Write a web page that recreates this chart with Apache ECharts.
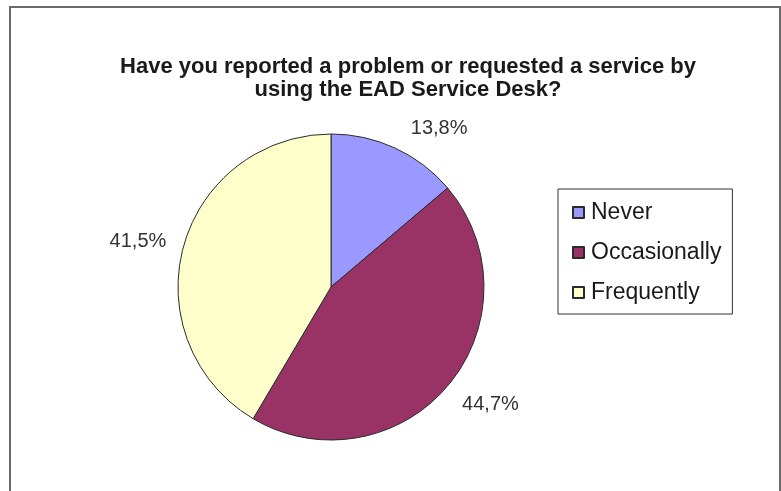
<!DOCTYPE html>
<html>
<head>
<meta charset="utf-8">
<script src="https://cdn.jsdelivr.net/npm/echarts@6/dist/echarts.min.js"></script>
<style>
  html, body { margin: 0; padding: 0; background: #ffffff; }
  #chart { width: 781px; height: 491px; }
</style>
</head>
<body>
<div id="chart"></div>
<script>
// Survey answers and their shares (percent)
const categories = ['Never', 'Occasionally', 'Frequently'];
const shares = [13.8, 44.7, 41.5];
const colors = ['#9999ff', '#993366', '#ffffcc'];
const titleText = 'Have you reported a problem or requested a service by\nusing the EAD Service Desk?';

// small nudges for the outside percentage labels
const labelOffsets = [[0, 3], [-10, 3], [12, 1]];

const FONT = '"Liberation Sans", Arial, sans-serif';

const chart = echarts.init(document.getElementById('chart'), null, { renderer: 'canvas' });

const pieData = categories.map((name, i) => ({
  name: name,
  value: shares[i],
  itemStyle: { color: colors[i] },
  label: { offset: labelOffsets[i] }
}));

chart.setOption({
  animation: false,
  backgroundColor: '#ffffff',
  title: {
    text: titleText,
    left: 403,
    top: 50,
    textAlign: 'center',
    textStyle: {
      fontFamily: FONT,
      fontWeight: 'bold',
      fontSize: 22,
      lineHeight: 23,
      color: '#1a1a1a'
    }
  },
  legend: {
    orient: 'vertical',
    left: 558,
    top: 189,
    padding: [12, 11, 10, 14],
    itemGap: 17,
    itemWidth: 11,
    itemHeight: 11,
    icon: 'rect',
    borderColor: '#333333',
    borderWidth: 1,
    textStyle: {
      fontFamily: FONT,
      fontSize: 23,
      color: '#1a1a1a',
      padding: [0, 0, 0, 2]
    },
    data: categories
  },
  graphic: [{
    type: 'polyline',
    shape: { points: [[10, 491], [10, 7], [780, 7], [780, 491]] },
    style: { stroke: '#6a6a6a', lineWidth: 2, fill: null },
    silent: true
  }],
  series: [{
    type: 'pie',
    center: [331, 287],
    radius: 153,
    startAngle: 90,
    clockwise: true,
    avoidLabelOverlap: false,
    itemStyle: { borderColor: '#2b2b2b', borderWidth: 1 },
    emphasis: { disabled: true },
    label: {
      show: true,
      position: 'outside',
      formatter: p => p.value.toFixed(1).replace('.', ',') + '%',
      fontFamily: FONT,
      fontSize: 20,
      color: '#333333'
    },
    labelLine: { show: false, length: 25, length2: 0 },
    data: pieData
  }]
});
</script>
</body>
</html>
